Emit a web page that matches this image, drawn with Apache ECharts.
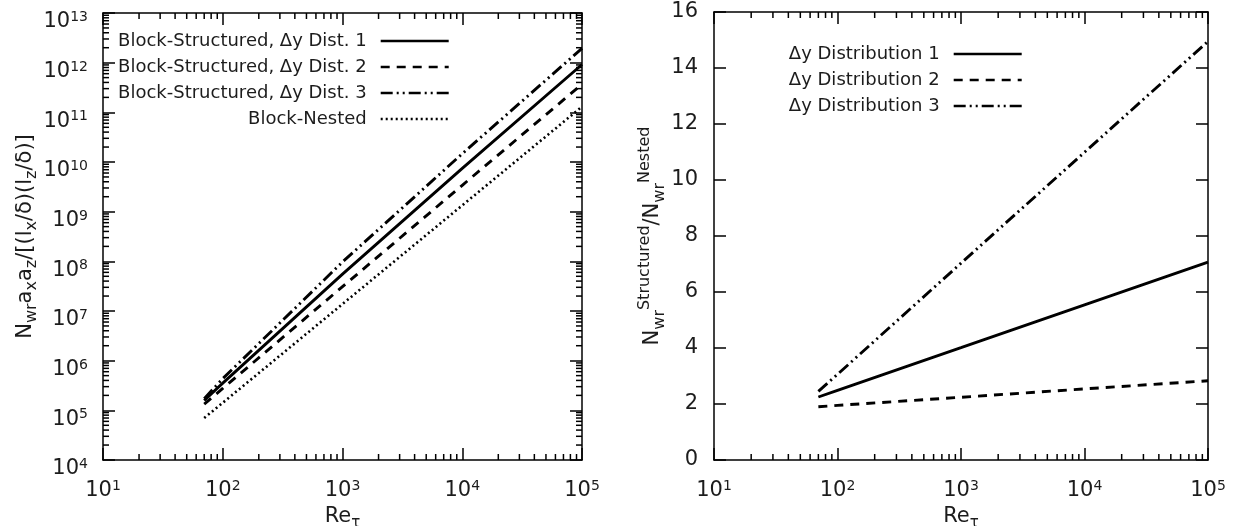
<!DOCTYPE html>
<html>
<head>
<meta charset="utf-8">
<script src="https://cdn.jsdelivr.net/npm/echarts@6/dist/echarts.min.js"></script>
<style>
  html, body { margin: 0; padding: 0; background: #fff; }
  #chart { width: 1240px; height: 526px; }
</style>
</head>
<body>
<div id="chart"></div>
<script>
// Friction Reynolds number samples
const reTau = [70, 100, 1000, 10000, 100000];

// Normalised wall-resolved point counts (left panel)
const dist1Count  = [1.58e5, 3.53e5, 5.53e7, 7.42e9, 9.19e11];
const dist2Count  = [1.33e5, 2.76e5, 3.09e7, 3.40e9, 3.68e11];
const dist3Count  = [1.72e5, 4.35e5, 9.70e7, 1.47e10, 1.94e12];
const nestedCount = [7.0e4, 1.42e5, 1.38e7, 1.34e9, 1.30e11];

// Structured / nested ratio (right panel)
const dist1Ratio = [2.25, 2.49, 4.01, 5.54, 7.07];
const dist2Ratio = [1.90, 1.95, 2.24, 2.54, 2.83];
const dist3Ratio = [2.45, 3.06, 7.03, 10.99, 14.95];

const leftNames = [
  'Block-Structured, \u0394y Dist. 1',
  'Block-Structured, \u0394y Dist. 2',
  'Block-Structured, \u0394y Dist. 3',
  'Block-Nested'
];
const rightNames = [
  '\u0394y Distribution 1',
  '\u0394y Distribution 2',
  '\u0394y Distribution 3'
];

// Axis ranges (decade exponents for the log axes)
const xExpRange = [1, 5];
const yExpRangeLeft = [4, 13];
const yRangeRight = [0, 16];
const yStepRight = 2;
const minorMultipliers = [2, 3, 4, 5, 6, 7, 8, 9];

const FONT = 'DejaVu Sans';
const TEXT = '#1c1c1c';
const INK = '#000';

// line dash patterns
const styles = [
  { type: 'solid', width: 2.9 },
  { type: [9, 7], width: 2.9 },
  { type: [12, 4, 2, 4, 2, 4], width: 2.9 },
  { type: [2, 3], width: 2.6 }
];

function pairs(xs, ys) { return xs.map((x, i) => [x, ys[i]]); }

function powLabel(v) {
  const e = Math.round(Math.log10(v));
  return '{b|10}{s|' + e + '}';
}
const powRich = {
  b: { fontFamily: FONT, fontSize: 21, lineHeight: 21, color: TEXT, padding: [9, 0, 0, 0], verticalAlign: 'top' },
  s: { fontFamily: FONT, fontSize: 14, lineHeight: 14, color: TEXT, padding: [8, 0, 0, 0], verticalAlign: 'top' }
};

function minorValues(e0, e1) {
  const out = [];
  for (let e = e0; e < e1; e++) {
    minorMultipliers.forEach(m => out.push(m * Math.pow(10, e)));
  }
  return out;
}

const TICK_MAJOR = 12, TICK_MINOR = 6;

function frameAxisCommon() {
  return {
    axisLine: { show: true, onZero: false, lineStyle: { color: INK, width: 1.5 } },
    axisTick: { show: true, inside: true, length: TICK_MAJOR, lineStyle: { color: INK, width: 1.5 } },
    splitLine: { show: false },
    minorTick: { show: false },
    minorSplitLine: { show: false }
  };
}

function logXAxis(grid, pos, showLabel, withName) {
  return Object.assign(frameAxisCommon(), {
    gridIndex: grid, position: pos, type: 'log', logBase: 10,
    min: Math.pow(10, xExpRange[0]), max: Math.pow(10, xExpRange[1]),
    interval: 1, splitNumber: xExpRange[1] - xExpRange[0],
    axisLabel: { show: showLabel, margin: 11, formatter: powLabel, rich: powRich },
    name: withName ? '{b|Re}{u|\u03c4}' : '',
    nameLocation: 'middle', nameGap: 40,
    nameTextStyle: {
      rich: {
        b: { fontFamily: FONT, fontSize: 21, lineHeight: 21, color: TEXT, verticalAlign: 'top' },
        u: { fontFamily: FONT, fontSize: 15, lineHeight: 15, color: TEXT, padding: [10, 0, 0, 0], verticalAlign: 'top' }
      }
    }
  });
}

function leftYAxis(pos, showLabel) {
  return Object.assign(frameAxisCommon(), {
    gridIndex: 0, position: pos, type: 'log', logBase: 10,
    min: Math.pow(10, yExpRangeLeft[0]), max: Math.pow(10, yExpRangeLeft[1]),
    interval: 1, splitNumber: yExpRangeLeft[1] - yExpRangeLeft[0],
    axisLabel: { show: showLabel, margin: 15, formatter: powLabel, rich: powRich },
    name: showLabel
      ? 'N{u|wr}a{u|x}a{u|z}/[(l{u|x}/\u03b4)(l{u|z}/\u03b4)]'
      : '',
    nameLocation: 'middle', nameRotate: 90, nameGap: 76,
    nameTextStyle: {
      fontFamily: FONT, fontSize: 21, lineHeight: 21, color: TEXT, verticalAlign: 'top',
      rich: {
        u: { fontFamily: FONT, fontSize: 16, lineHeight: 16, color: TEXT, padding: [9, 0, 0, 0], verticalAlign: 'top' }
      }
    }
  });
}

function rightYAxis(pos, showLabel) {
  return Object.assign(frameAxisCommon(), {
    gridIndex: 1, position: pos, type: 'value',
    min: yRangeRight[0], max: yRangeRight[1], interval: yStepRight,
    axisLabel: { show: showLabel, margin: 16, fontFamily: FONT, fontSize: 21, color: TEXT },
    name: showLabel
      ? '{b|N}{u|wr}{p|Structured}{b|/N}{u|wr}{p|Nested}'
      : '',
    nameLocation: 'middle', nameRotate: 90, nameGap: 49,
    nameTextStyle: {
      rich: {
        b: { fontFamily: FONT, fontSize: 21, lineHeight: 21, color: TEXT, padding: [6, 0, 0, 0], verticalAlign: 'top' },
        u: { fontFamily: FONT, fontSize: 16, lineHeight: 16, color: TEXT, padding: [15, 0, 0, 0], verticalAlign: 'top' },
        p: { fontFamily: FONT, fontSize: 16, lineHeight: 16, color: TEXT, verticalAlign: 'top' }
      }
    }
  });
}

// Minor ticks at 2..9 x 10^k drawn inward on the frame edges
function minorTickSeries(xAxisIndex, yAxisIndex, xVals, yVals, xMin, yMin) {
  const data = xVals.map(v => [v, yMin, 0]).concat(yVals.map(v => [xMin, v, 1]));
  return {
    type: 'custom', xAxisIndex, yAxisIndex, silent: true, z: 5,
    encode: { x: 0, y: 1 },
    data,
    renderItem(params, api) {
      const cs = params.coordSys;
      const p = api.coord([api.value(0), api.value(1)]);
      const st = { stroke: INK, lineWidth: 1.5 };
      let lines;
      if (api.value(2) === 0) {
        const x = p[0], yb = cs.y + cs.height, yt = cs.y;
        lines = [[x, yb, x, yb - TICK_MINOR], [x, yt, x, yt + TICK_MINOR]];
      } else {
        const y = p[1], xl = cs.x, xr = cs.x + cs.width;
        lines = [[xl, y, xl + TICK_MINOR, y], [xr, y, xr - TICK_MINOR, y]];
      }
      return {
        type: 'group',
        children: lines.map(l => ({ type: 'line', shape: { x1: l[0], y1: l[1], x2: l[2], y2: l[3] }, style: st }))
      };
    }
  };
}

function lineSeries(name, xi, yi, data, s) {
  return {
    type: 'line', name, xAxisIndex: xi, yAxisIndex: yi, data,
    symbol: 'none', showSymbol: false, smooth: false, z: 3,
    lineStyle: { color: INK, width: s.width, type: s.type, cap: 'butt' },
    itemStyle: { color: INK }
  };
}

function legend(names, right, top) {
  return {
    data: names, orient: 'vertical', align: 'right', right, top,
    padding: 0, itemGap: 8, itemWidth: 68, itemHeight: 14, selectedMode: false,
    lineStyle: { width: 2.6 },
    // sample line only, no marker in the key
    itemStyle: { color: 'rgba(0,0,0,0)', borderWidth: 0, opacity: 0 },
    textStyle: { fontFamily: FONT, fontSize: 18, lineHeight: 18, color: TEXT, padding: [0, 9, 0, 0] }
  };
}

const leftCounts = [dist1Count, dist2Count, dist3Count, nestedCount];
const rightRatios = [dist1Ratio, dist2Ratio, dist3Ratio];

const xMinors = minorValues(xExpRange[0], xExpRange[1]);
const yMinorsLeft = minorValues(yExpRangeLeft[0], yExpRangeLeft[1]);

const option = {
  animation: false,
  backgroundColor: '#fff',
  grid: [
    { left: 103, top: 13, width: 479, height: 447, outerBoundsMode: 'none', containLabel: false },
    { left: 714, top: 12, width: 494, height: 448, outerBoundsMode: 'none', containLabel: false }
  ],
  xAxis: [
    logXAxis(0, 'bottom', true, true),
    logXAxis(0, 'top', false, false),
    logXAxis(1, 'bottom', true, true),
    logXAxis(1, 'top', false, false)
  ],
  yAxis: [
    leftYAxis('left', true),
    leftYAxis('right', false),
    rightYAxis('left', true),
    rightYAxis('right', false)
  ],
  legend: [
    legend(leftNames, 1240 - 450, 32),
    legend(rightNames, 1240 - 1023, 45)
  ],
  series: [
    ...leftNames.map((n, i) => lineSeries(n, 0, 0, pairs(reTau, leftCounts[i]), styles[i])),
    ...rightNames.map((n, i) => lineSeries(n, 2, 2, pairs(reTau, rightRatios[i]), styles[i])),
    minorTickSeries(0, 0, xMinors, yMinorsLeft, Math.pow(10, xExpRange[0]), Math.pow(10, yExpRangeLeft[0])),
    minorTickSeries(2, 2, xMinors, [], Math.pow(10, xExpRange[0]), yRangeRight[0])
  ]
};

const chart = echarts.init(document.getElementById('chart'), null, { renderer: 'canvas' });
chart.setOption(option);
</script>
</body>
</html>
